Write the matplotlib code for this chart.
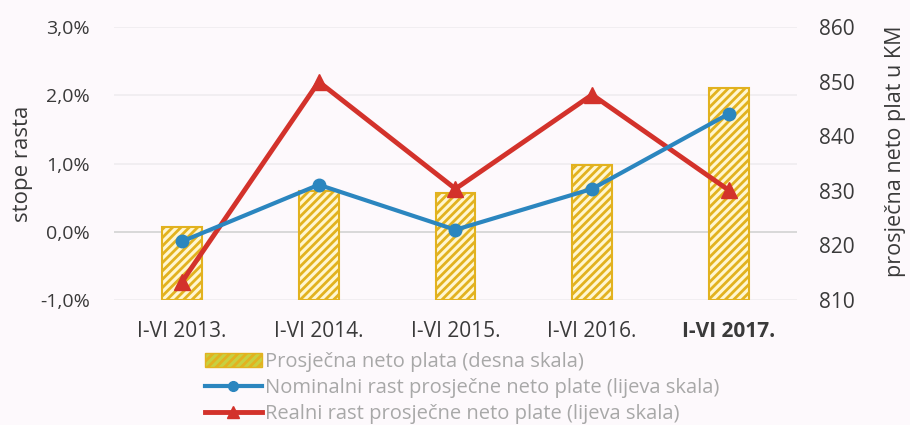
import numpy as np
import matplotlib.pyplot as plt
from matplotlib.patches import Patch
from matplotlib.lines import Line2D
from matplotlib.transforms import blended_transform_factory

# data
periods = ["I-VI 2013.", "I-VI 2014.", "I-VI 2015.", "I-VI 2016.", "I-VI 2017."]
avg_wage = [823.4, 830.0, 829.6, 834.7, 848.8]          # KM, right scale
nominal_growth = [-0.14, 0.69, 0.03, 0.63, 1.73]        # %, left scale
real_growth = [-0.73, 2.20, 0.63, 2.01, 0.61]           # %, left scale

blue = "#2b86bf"
red = "#d3322b"
gold = "#e2b21f"
grey_text = "#a8a8a8"
dark_text = "#3a3a3a"

plt.rcParams["font.family"] = ["Open Sans", "DejaVu Sans"]
plt.rcParams["hatch.linewidth"] = 2.0

fig = plt.figure(figsize=(9.1, 4.25), dpi=100, facecolor="#fdf9fc")
ax = fig.add_axes([0.125, 0.294, 0.751, 0.642])
ax2 = ax.twinx()
x = np.arange(len(periods))

# gridlines of the left scale, drawn behind the bars
pct_ticks = [-1, 0, 1, 2, 3]
grid_tr = blended_transform_factory(ax2.transAxes, ax.transData)
for v in pct_ticks:
    ax2.plot([0, 1], [v, v], transform=grid_tr, color="#d6d6d6" if v == 0 else "#f0edf0",
             lw=1.3, zorder=0)

# bars on the right scale
ax2.bar(x, np.array(avg_wage) - 810, bottom=810, width=0.29,
        facecolor="#fff6d0", edgecolor=gold, hatch="////", linewidth=1.5, zorder=2)
ax2.set_ylim(810, 860)
ax2.set_yticks(np.arange(810, 861, 10))
ax2.set_yticklabels([str(v) for v in range(810, 861, 10)])

# lines on the left scale, drawn above the bars
ax.set_zorder(ax2.get_zorder() + 1)
ax.patch.set_visible(False)
ax.plot(x, nominal_growth, color=blue, lw=3, marker="o", ms=9, zorder=4)
ax.plot(x, real_growth, color=red, lw=3.5, marker="^", ms=11, zorder=3)
ax.set_ylim(-1, 3)
ax.set_yticks(pct_ticks)
ax.set_yticklabels(["-1,0%", "0,0%", "1,0%", "2,0%", "3,0%"])
ax.set_xlim(-0.5, 4.5)
ax.set_xticks(x)
ax.set_xticklabels(periods)
ax.get_xticklabels()[-1].set_fontweight("bold")

for a in (ax, ax2):
    for s in a.spines.values():
        s.set_visible(False)
    a.tick_params(length=0, colors=dark_text)
ax.tick_params(axis="y", pad=17, labelsize=14)
ax.tick_params(axis="x", pad=15, labelsize=15)
ax2.tick_params(axis="y", pad=16, labelsize=15)

ax.set_ylabel("stope rasta", fontsize=16, color=dark_text)
ax.yaxis.set_label_coords(-0.118, 0.5)
ax2.set_ylabel("prosječna neto plat u KM", fontsize=15.5, color=dark_text)
ax2.yaxis.set_label_coords(1.128, 0.546)

handles = [
    Patch(facecolor="#c8d040", edgecolor=gold, hatch="////"),
    Line2D([0], [0], color=blue, lw=3, marker="o", ms=7),
    Line2D([0], [0], color=red, lw=3.5, marker="^", ms=9),
]
labels = [
    "Prosječna neto plata (desna skala)",
    "Nominalni rast prosječne neto plate (lijeva skala)",
    "Realni rast prosječne neto plate (lijeva skala)",
]
leg = fig.legend(handles, labels, loc="upper left", bbox_to_anchor=(0.225, 0.172),
                 frameon=False, fontsize=14.5, handlelength=2.83, handletextpad=0.15,
                 labelspacing=0.29, borderaxespad=0, borderpad=0)
for t in leg.get_texts():
    t.set_color(grey_text)

fig.savefig("out.png", dpi=100, facecolor=fig.get_facecolor())
